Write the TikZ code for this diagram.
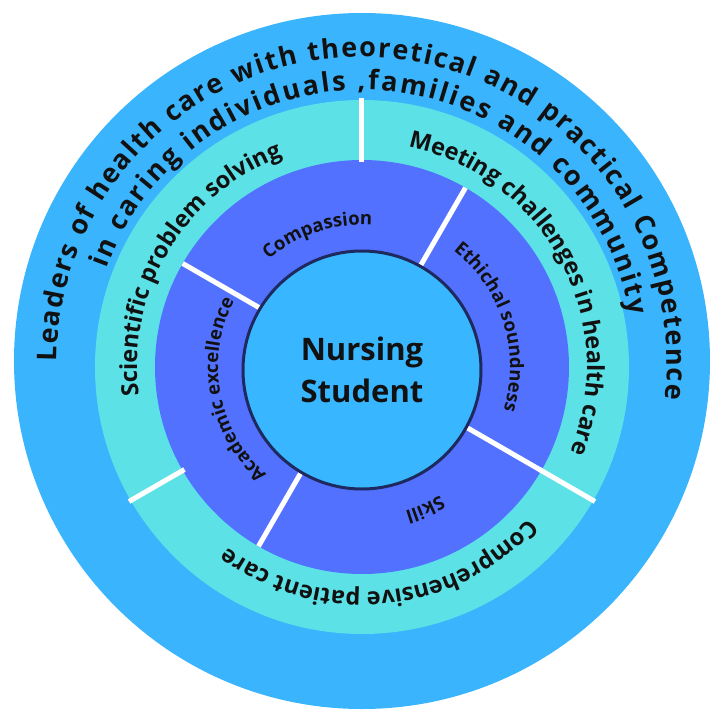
\documentclass[tikz,border=0pt]{standalone}
\usepackage{fontspec}
\setmainfont{Open Sans}
\usetikzlibrary{decorations.text}

\definecolor{outerblue}{HTML}{3AB4FC}
\definecolor{ringteal}{HTML}{5CE1E6}
\definecolor{ringpurple}{HTML}{5271FF}
\definecolor{coreblue}{HTML}{38B6FF}
\definecolor{corenavy}{HTML}{1E2A5E}
\definecolor{inkblack}{HTML}{111111}

\newcommand{\leadfont}{\color{inkblack}\fontsize{27}{32}\selectfont\bfseries}
\newcommand{\tealfont}{\color{inkblack}\fontsize{23.5}{28}\selectfont\bfseries}
\newcommand{\purplefont}{\color{inkblack}\fontsize{18.5}{22}\selectfont\bfseries}

\begin{document}
\begin{tikzpicture}
[x=1pt, y=1pt,
  divider/.style={white, line width=5pt},
  fitlabel/.style={decorate, decoration={text along path, text align=fit to path, text={#1}}},
  arclabel/.style={decorate, decoration={text along path, text align=center, text={#1}}},
  core/.style={circle, draw=corenavy, line width=3pt, fill=coreblue, inner sep=0pt,
    minimum size=238pt, align=center, text=inkblack, font=\fontsize{31}{42}\selectfont\bfseries}]

\useasboundingbox (-362,-351) rectangle (351,362);

\coordinate (o) at (0,0);
\coordinate (c) at (0,-5);

% rings
\fill[outerblue] (0,1) circle[radius=348pt];
\fill[ringteal] (c) circle[radius=267pt];
\fill[ringpurple] (c) circle[radius=207pt];

% teal ring dividers
\foreach \a in {90,210,330}
  \draw[divider] ([shift={(c)}]\a:205pt) -- ([shift={(c)}]\a:269pt);

% purple ring dividers
\foreach \a in {60,150,240,330}
  \draw[divider] ([shift={(c)}]\a:115pt) -- ([shift={(c)}]\a:207pt);

\node[core] (student) at (0,-8) {Nursing\\Student};

% outer ring text
\path[fitlabel={|\leadfont|Leaders of health care with theoretical and practical Competence}]
  ([shift={(o)}]180:305pt) arc[start angle=180, end angle=-7, radius=305pt];
\path[fitlabel={|\leadfont|in caring individuals ,families and community}]
  ([shift={(o)}]160:272pt) arc[start angle=160, end angle=10, radius=272pt];

% teal ring text
\path[arclabel={|\tealfont|Scientific problem solving}]
  ([shift={(c)}]205:225pt) arc[start angle=205, end angle=93, radius=225pt];
\path[arclabel={|\tealfont|Meeting challenges in health care}]
  ([shift={(c)}]88:225pt) arc[start angle=88, end angle=-32, radius=225pt];
\path[arclabel={|\tealfont|Comprehensive patient care}]
  ([shift={(c)}]-28:225pt) arc[start angle=-28, end angle=-141, radius=225pt];

% purple ring text
\path[arclabel={|\purplefont|Compassion}]
  ([shift={(c)}]155:142pt) arc[start angle=155, end angle=62, radius=142pt];
\path[arclabel={|\purplefont|Ethichal soundness}]
  ([shift={(c)}]60:148pt) arc[start angle=60, end angle=-25, radius=148pt];
\path[arclabel={|\purplefont|Skill}]
  ([shift={(c)}]-28:150pt) arc[start angle=-28, end angle=-104, radius=150pt];
\path[arclabel={|\purplefont|Academic excellence}]
  ([shift={(c)}]235:144pt) arc[start angle=235, end angle=146, radius=144pt];

\end{tikzpicture}
\end{document}
